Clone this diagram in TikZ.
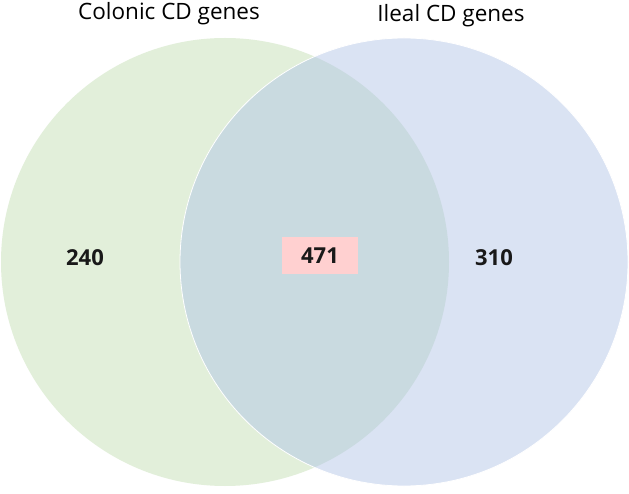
\documentclass[tikz,border=0pt]{standalone}
\usepackage{fontspec}
\setmainfont{Open Sans}
\definecolor{cgreen}{HTML}{E2EFDA}
\definecolor{cblue}{HTML}{DAE3F3}
\definecolor{coverlap}{HTML}{C9DAE0}
\definecolor{cpink}{HTML}{FFD0D0}
\tikzset{
  setlabel/.style={font=\fontsize{22.5}{26}\selectfont, text=black, inner sep=0pt},
  countlabel/.style={font=\fontsize{22}{26}\selectfont\bfseries, text=black!90, inner sep=0pt},
}
\begin{document}
\begin{tikzpicture}[x=1pt,y=1pt]
\useasboundingbox (0,0) rectangle (629,493);
\fill[white] (0,0) rectangle (629,493);
\coordinate (cl) at (225,231);
\coordinate (cr) at (404,231);
\fill[cgreen] (cl) circle[radius=224];
\fill[cblue] (cr) circle[radius=224];
\begin{scope}
  \clip (cl) circle[radius=224];
  \fill[coverlap] (cr) circle[radius=224];
\end{scope}
\draw[white, line width=0.8pt] (cr) circle[radius=224];
\node[setlabel] (tl) at (169,479) {Colonic CD genes};
\node[setlabel] (tr) at (451,477) {Ileal CD genes};
\node[countlabel] (n240) at (85,235) {240};
\node[countlabel, fill=cpink, minimum width=76pt, minimum height=37pt] (n471) at (320,237) {471};
\node[countlabel] (n310) at (494,235) {310};
\end{tikzpicture}
\end{document}
